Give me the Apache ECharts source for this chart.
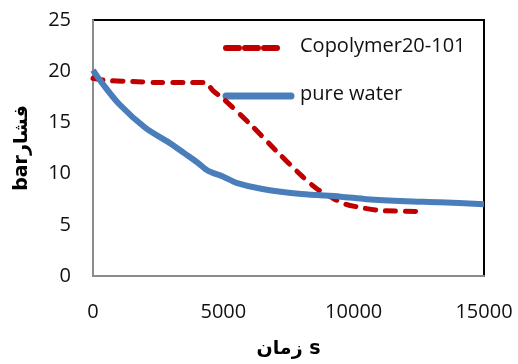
<!DOCTYPE html>
<html>
<head>
<meta charset="utf-8">
<script src="https://cdn.jsdelivr.net/npm/echarts@6/dist/echarts.min.js"></script>
<style>html,body{margin:0;padding:0;background:#fff}#c{width:518px;height:364px}</style>
</head>
<body>
<div id="c"></div>
<script>
// Copolymer20-101 series (time s, pressure bar)
const copolymerTime = [0, 500, 1500, 2500, 3500, 4300, 4600, 5000, 6000, 7000, 8000, 8600, 9200, 9700, 10250, 11000, 12500];
const copolymerVal  = [19.3, 19.1, 19.0, 18.9, 18.9, 18.9, 18.1, 17.3, 14.9, 12.3, 9.8, 8.5, 7.6, 7.0, 6.7, 6.4, 6.3];
// pure water series
const waterTime = [0, 300, 1000, 2000, 3000, 3500, 4000, 4400, 5000, 5500, 6500, 8000, 9500, 10500, 12000, 13300, 15000];
const waterVal  = [20.1, 19.0, 16.8, 14.5, 12.9, 12.0, 11.1, 10.3, 9.7, 9.1, 8.5, 8.0, 7.75, 7.5, 7.3, 7.2, 7.0];
const seriesNames = ['Copolymer20-101', 'pure water'];
const xTicks = [0, 5000, 10000, 15000];
const yTicks = [0, 5, 10, 15, 20, 25];
const xTitle = 'زمان s';
const yTitle = 'barفشار';

const pair = (xs, ys) => xs.map((x, i) => [x, ys[i]]);
const font = '"Open Sans", "DejaVu Sans", sans-serif';
const RED = '#C00000', BLUE = '#4A7EBB';

const chart = echarts.init(document.getElementById('c'), null, {renderer: 'canvas'});
chart.setOption({
  animation: false,
  backgroundColor: '#fff',
  grid: {left: 93, right: 34, top: 20, bottom: 86, show: true, borderColor: '#000', borderWidth: 2, backgroundColor: 'transparent'},
  xAxis: {
    type: 'value', min: xTicks[0], max: xTicks[xTicks.length - 1], interval: 5000,
    axisLine: {show: true, lineStyle: {color: '#8c8c8c', width: 2}},
    axisTick: {show: false}, splitLine: {show: false},
    axisLabel: {color: '#111', fontSize: 20, fontFamily: font, margin: 26, formatter: v => String(v)},
    name: xTitle, nameLocation: 'middle', nameGap: 64,
    nameTextStyle: {color: '#000', fontSize: 19, fontWeight: 'bold', fontFamily: '"DejaVu Sans", sans-serif'}
  },
  yAxis: {
    type: 'value', min: yTicks[0], max: yTicks[yTicks.length - 1], interval: 5,
    axisLine: {show: true, lineStyle: {color: '#8c8c8c', width: 2}},
    axisTick: {show: false}, splitLine: {show: false},
    axisLabel: {color: '#111', fontSize: 20, fontFamily: font, margin: 22, formatter: v => String(v)},
    name: yTitle, nameLocation: 'middle', nameGap: 61, nameRotate: 90,
    nameTextStyle: {color: '#000', fontSize: 19, fontWeight: 'bold', fontFamily: '"DejaVu Sans", sans-serif'}
  },
  graphic: [
    {type: 'line', shape: {x1: 226, y1: 48, x2: 282, y2: 48}, style: {stroke: RED, lineWidth: 6, lineDash: [13, 6], lineCap: 'round'}},
    {type: 'text', left: 300, top: 36, style: {text: seriesNames[0], fill: '#111', font: '20px ' + font}},
    {type: 'line', shape: {x1: 226, y1: 96, x2: 291, y2: 96}, style: {stroke: BLUE, lineWidth: 7, lineCap: 'round'}},
    {type: 'text', left: 300, top: 84, style: {text: seriesNames[1], fill: '#111', font: '20px ' + font}}
  ],
  series: [
    {
      name: seriesNames[0], type: 'line', data: pair(copolymerTime, copolymerVal),
      symbol: 'none', smooth: 0.3, color: RED,
      lineStyle: {color: RED, width: 5, type: [10, 10], cap: 'round'}
    },
    {
      name: seriesNames[1], type: 'line', data: pair(waterTime, waterVal),
      symbol: 'none', smooth: 0.3, color: BLUE,
      lineStyle: {color: BLUE, width: 6}
    }
  ]
});
</script>
</body>
</html>
